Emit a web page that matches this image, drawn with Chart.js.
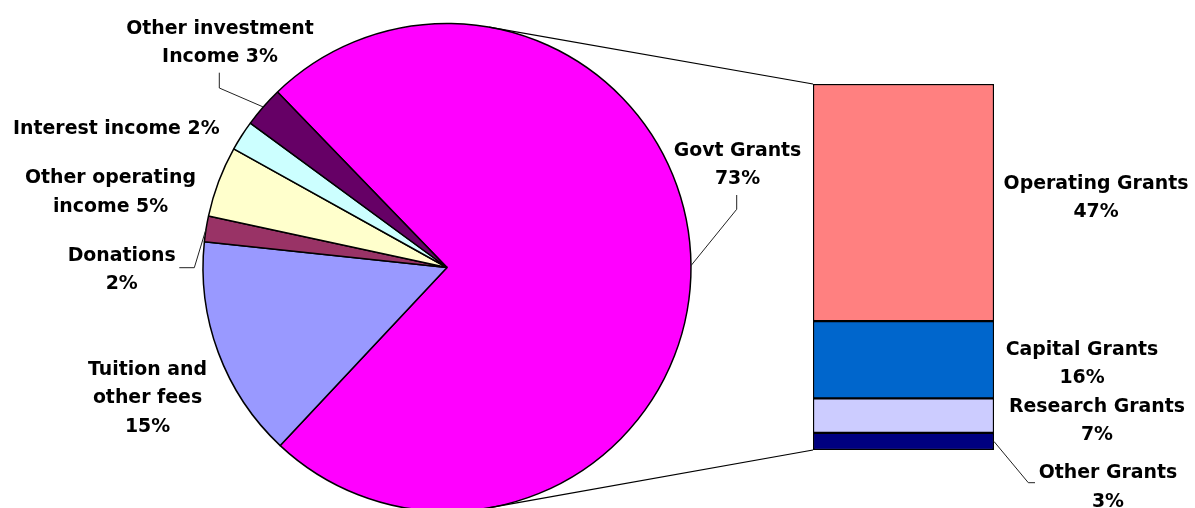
<!DOCTYPE html>
<html>
<head>
<meta charset="utf-8">
<script src="https://cdn.jsdelivr.net/npm/chart.js@4"></script>
<style>
  html, body { margin: 0; padding: 0; background: #fff; overflow: hidden; }
  #wrap { position: relative; width: 1195px; height: 508px; overflow: hidden; }
  #pieChart, #barChart { position: absolute; left: 0; top: 0; }
</style>
</head>
<body>
<div id="wrap">
  <canvas id="pieChart" width="1195" height="535"></canvas>
  <canvas id="barChart" width="1195" height="508"></canvas>
</div>
<script>
// pie slices, share of total income (%)
const pieLabels = ['Govt Grants', 'Tuition and other fees', 'Donations', 'Other operating income', 'Interest income', 'Other investment Income'];
const pieValues = [74.2, 14.7, 1.7, 4.7, 2.0, 2.7];
const pieText = [['Govt Grants', '73%'], ['Tuition and', 'other fees', '15%'], ['Donations', '2%'], ['Other operating', 'income 5%'], ['Interest income 2%'], ['Other investment', 'Income 3%']];
const pieColors = ['#FF00FF', '#9999FF', '#993366', '#FFFFCC', '#CCFFFF', '#660066'];

// govt grants broken down, bottom to top of the bar
const barLabels = ['Other Grants', 'Research Grants', 'Capital Grants', 'Operating Grants'];
const barValues = [3.4, 6.9, 15.4, 47.3];
const barText = [['Other Grants', '3%'], ['Research Grants', '7%'], ['Capital Grants', '16%'], ['Operating Grants', '47%']];
const barColors = ['#000080', '#CCCCFF', '#0066CC', '#FF8080'];

const FONT = 'bold 18.9px "DejaVu Sans"';
const LINE_H = 28.4;

// label placement: centre x, first baseline, optional leader elbow (ends on the mark)
const pieLabelPos = [
  { x: 737.5, y: 156, leader: [[736.7, 195], [736.7, 209.3]] },
  { x: 147.5, y: 375 },
  { x: 121.7, y: 261, leader: [[179.3, 267.7], [194.3, 267.7]] },
  { x: 110.5, y: 183.3 },
  { x: 116.3, y: 134.3 },
  { x: 220, y: 33.5, leader: [[219.3, 72.7], [219.3, 88]] }
];
const barLabelPos = [
  { x: 1108, y: 478.3, leader: [[1035, 482.7], [1028.3, 482.7]] },
  { x: 1097, y: 411.7 },
  { x: 1082, y: 355 },
  { x: 1096, y: 189 }
];

const pieChart = new Chart(document.getElementById('pieChart'), {
  type: 'pie',
  data: {
    labels: pieLabels,
    datasets: [{
      data: pieValues,
      backgroundColor: pieColors,
      borderColor: '#000',
      borderWidth: 1.5,
      hoverOffset: 0
    }]
  },
  options: {
    responsive: false,
    animation: false,
    events: [],
    rotation: -44,
    radius: 244,
    layout: { padding: { left: 200, right: 501, top: 20, bottom: 20 } },
    plugins: { legend: { display: false }, tooltip: { enabled: false } }
  }
});

function drawText(ctx, lines, pos) {
  lines.forEach((t, i) => ctx.fillText(t, pos.x, pos.y + i * LINE_H));
}

function drawLeader(ctx, pts, end) {
  ctx.beginPath();
  ctx.moveTo(pts[0][0], pts[0][1]);
  for (let i = 1; i < pts.length; i++) ctx.lineTo(pts[i][0], pts[i][1]);
  ctx.lineTo(end[0], end[1]);
  ctx.stroke();
}

const overlay = {
  id: 'overlay',
  afterDraw(chart) {
    const ctx = chart.ctx;
    const arcs = pieChart.getDatasetMeta(0).data;
    const cx = arcs[0].x, cy = arcs[0].y, r = arcs[0].outerRadius;
    const topBar = chart.getDatasetMeta(barValues.length - 1).data[0];
    const lowBar = chart.getDatasetMeta(0).data[0];
    const left = topBar.x - topBar.width / 2;

    ctx.save();
    ctx.strokeStyle = '#000';
    ctx.lineWidth = 1.2;

    // series lines: bar corners to tangent points on the pie
    [[left, topBar.y, -1], [left, lowBar.base, 1]].forEach(([px, py, side]) => {
      const dx = px - cx, dy = py - cy;
      const d = Math.hypot(dx, dy);
      const a = Math.atan2(dy, dx) + side * Math.acos(r / d);
      ctx.beginPath();
      ctx.moveTo(px, py);
      ctx.lineTo(cx + r * Math.cos(a), cy + r * Math.sin(a));
      ctx.stroke();
    });

    ctx.lineWidth = 1;
    ctx.strokeStyle = '#222';
    ctx.font = FONT;
    ctx.fillStyle = '#000';
    ctx.textAlign = 'center';
    ctx.textBaseline = 'alphabetic';

    arcs.forEach((arc, i) => {
      const pos = pieLabelPos[i];
      if (pos.leader) {
        const mid = (arc.startAngle + arc.endAngle) / 2;
        drawLeader(ctx, pos.leader, [cx + r * Math.cos(mid), cy + r * Math.sin(mid)]);
      }
      drawText(ctx, pieText[i], pos);
    });

    barValues.forEach((v, i) => {
      const el = chart.getDatasetMeta(i).data[0];
      const pos = barLabelPos[i];
      if (pos.leader) {
        drawLeader(ctx, pos.leader, [el.x + el.width / 2, (el.y + el.base) / 2]);
      }
      drawText(ctx, barText[i], pos);
    });
    ctx.restore();
  }
};

const barChart = new Chart(document.getElementById('barChart'), {
  type: 'bar',
  data: {
    labels: [''],
    datasets: barLabels.map((label, i) => ({
      label: label,
      data: [barValues[i]],
      backgroundColor: barColors[i],
      borderColor: '#000',
      borderWidth: 1.5,
      borderSkipped: false,
      barPercentage: 1,
      categoryPercentage: 1
    }))
  },
  options: {
    responsive: false,
    animation: false,
    events: [],
    layout: { padding: { left: 813, right: 201, top: 84, bottom: 58 } },
    scales: {
      x: { stacked: true, display: false },
      y: { stacked: true, display: false, min: 0, max: barValues.reduce((a, b) => a + b, 0) }
    },
    plugins: { legend: { display: false }, tooltip: { enabled: false } }
  },
  plugins: [overlay]
});
</script>
</body>
</html>
